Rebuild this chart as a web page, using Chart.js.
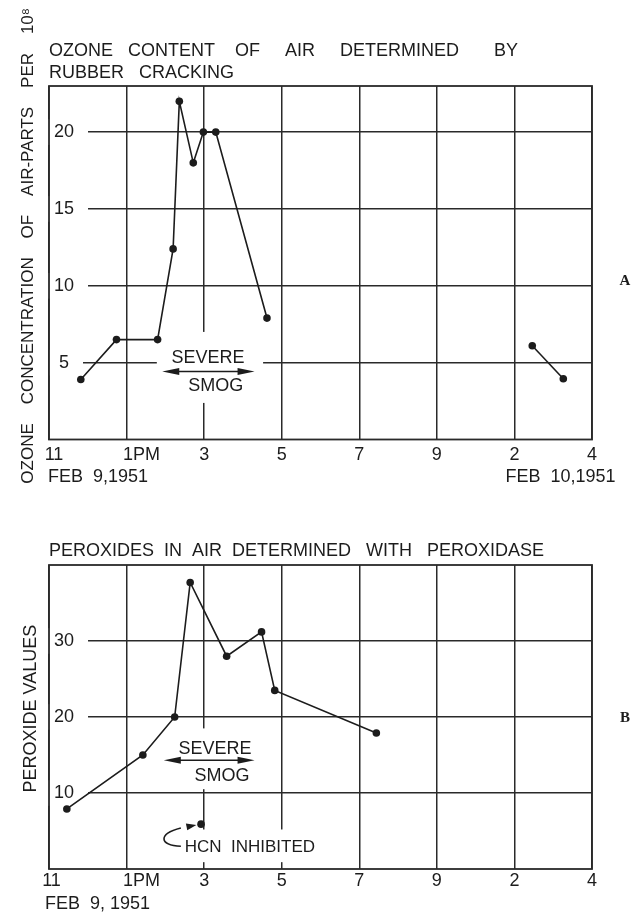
<!DOCTYPE html>
<html>
<head>
<meta charset="utf-8">
<script src="https://cdn.jsdelivr.net/npm/chart.js@4.4.1/dist/chart.umd.min.js"></script>
<style>
html,body{margin:0;padding:0;background:#fff;width:631px;height:915px;overflow:hidden;}
#cA{position:absolute;left:0;top:0;}
#cB{position:absolute;left:0;top:520px;}
</style>
</head>
<body>
<canvas id="cA" width="631" height="495"></canvas>
<canvas id="cB" width="631" height="395"></canvas>
<script>
// x axis positions: 0 = 11 AM, 1 = 1 PM, 2 = 3, 3 = 5, 4 = 7, 5 = 9 (Feb 9, 1951) | 6 = 2, 7 = 4 (Feb 10, 1951)
const xTickLabels = ['11', '1PM', '3', '5', '7', '9', '2', '4'];

// Chart A: ozone (parts per 10^8), Feb 9
const ozoneFeb9Time  = [0.41, 0.87, 1.40, 1.60, 1.68, 1.86, 1.99, 2.15, 2.81];
const ozoneFeb9Value = [3.9, 6.5, 6.5, 12.4, 22.0, 18.0, 20.0, 20.0, 7.9];
// Chart A: ozone, Feb 10
const ozoneFeb10Time  = [6.23, 6.63];
const ozoneFeb10Value = [6.1, 3.95];
const ozoneTicks = [5, 10, 15, 20];

// Chart B: peroxide values
const peroxTime  = [0.23, 1.21, 1.62, 1.82, 2.29, 2.74, 2.91, 4.22];
const peroxValue = [7.9, 15.0, 20.0, 37.7, 28.0, 31.2, 23.5, 17.9];
// Chart B: HCN inhibited sample
const hcnTime  = [1.96];
const hcnValue = [5.9];
const peroxTicks = [10, 20, 30];

const FONT = "'Liberation Sans', Arial, sans-serif";
const INK = '#1c1c1c';
const GRID = '#2a2a2a';

const toPts = (xs, ys) => xs.map((x, i) => ({x: x, y: ys[i]}));

function drawHead(ctx, tx, ty, dx, dy, len, half) {
  const m = Math.hypot(dx, dy); const ux = dx / m, uy = dy / m;
  const bx = tx - ux * len, by = ty - uy * len;
  ctx.beginPath();
  ctx.moveTo(tx, ty);
  ctx.lineTo(bx - uy * half, by + ux * half);
  ctx.lineTo(bx + uy * half, by - ux * half);
  ctx.closePath();
  ctx.fill();
}

const notes = {
  id: 'notes',
  beforeDatasetsDraw(chart, args, opts) {
    const {ctx, chartArea: a, scales: {x, y}} = chart;
    const px = v => x.getPixelForValue(v), py = v => y.getPixelForValue(v);
    ctx.save();
    ctx.fillStyle = '#fff';
    (opts.masks || []).forEach(m => {
      ctx.fillRect(px(m.x0), py(m.y1), px(m.x1) - px(m.x0), py(m.y0) - py(m.y1));
    });
    // frame of the plot
    ctx.strokeStyle = GRID; ctx.lineWidth = 1.8;
    ctx.strokeRect(a.left, a.top, a.right - a.left, a.bottom - a.top);
    // texts
    ctx.fillStyle = INK;
    (opts.texts || []).forEach(t => {
      let tx, ty;
      if (t.xv !== undefined) tx = px(t.xv); else if (t.xr !== undefined) tx = a.right + t.xr; else tx = a.left + t.xo;
      tx += (t.dx || 0);
      if (t.yv !== undefined) ty = py(t.yv); else ty = a.bottom + t.yo;
      ctx.save();
      ctx.font = t.font || ('18px ' + FONT);
      ctx.textAlign = t.align || 'center';
      ctx.textBaseline = 'middle';
      ctx.translate(tx, ty);
      if (t.rotate) ctx.rotate(-Math.PI / 2);
      ctx.fillText(t.text, 0, 0);
      ctx.restore();
    });
    // double-headed arrows
    ctx.strokeStyle = INK; ctx.lineWidth = 1.6;
    (opts.arrows || []).forEach(r => {
      const x0 = px(r.x0), x1 = px(r.x1), yy = py(r.y);
      ctx.beginPath(); ctx.moveTo(x0 + 8, yy); ctx.lineTo(x1 - 8, yy); ctx.stroke();
      drawHead(ctx, x0, yy, -1, 0, 17, 3.5);
      drawHead(ctx, x1, yy, 1, 0, 17, 3.5);
    });
    // curved arrow
    (opts.curves || []).forEach(c => {
      const p = c.pts.map(q => [px(q[0]), py(q[1])]);
      ctx.beginPath();
      ctx.moveTo(p[0][0], p[0][1]);
      ctx.bezierCurveTo(p[1][0], p[1][1], p[2][0], p[2][1], p[3][0], p[3][1]);
      ctx.stroke();
      drawHead(ctx, p[4][0], p[4][1], p[4][0] - p[3][0], p[4][1] - p[3][1], 10, 3.5);
    });
    ctx.restore();
  }
};

function xAxis(height, labelPad, shifts) {
  return {
    type: 'linear', min: 0, max: 7,
    afterBuildTicks: s => { s.ticks = xTickLabels.map((l, i) => ({value: i})); },
    afterFit: s => { s.height = height; s.paddingLeft = 0; s.paddingRight = 0; },
    border: {display: false},
    grid: {color: GRID, lineWidth: 1.5, drawTicks: false},
    ticks: {
      padding: labelPad, color: INK, maxRotation: 0, autoSkip: false,
      font: {family: FONT, size: 18},
      callback: v => ' '.repeat(shifts[xTickLabels[v]] || 0) + xTickLabels[v]
    }
  };
}

function yAxis(max, tickList) {
  return {
    type: 'linear', min: 0, max: max,
    afterBuildTicks: s => { s.ticks = tickList.map(v => ({value: v})); },
    afterFit: s => { s.width = 49; s.paddingTop = 0; s.paddingBottom = 0; },
    border: {display: false},
    grid: {color: GRID, lineWidth: 1.5, drawTicks: false},
    ticks: {
      mirror: true, crossAlign: 'center', padding: 5, color: INK,
      font: {family: FONT, size: 18},
      showLabelBackdrop: true, backdropColor: '#fff',
      backdropPadding: {left: 10, right: 14, top: 2, bottom: 2}
    }
  };
}

const lineStyle = {
  borderColor: INK, backgroundColor: INK, borderWidth: 1.6,
  pointRadius: 3.8, pointBackgroundColor: INK, pointBorderWidth: 0,
  tension: 0, fill: false
};

new Chart(document.getElementById('cA'), {
  type: 'line',
  data: {
    datasets: [
      Object.assign({label: 'Ozone Feb 9', data: toPts(ozoneFeb9Time, ozoneFeb9Value)}, lineStyle),
      Object.assign({label: 'Ozone Feb 10', data: toPts(ozoneFeb10Time, ozoneFeb10Value)}, lineStyle)
    ]
  },
  options: {
    responsive: false, animation: false, devicePixelRatio: 1,
    layout: {padding: {left: 0, right: 39, top: 0, bottom: 0}},
    scales: {x: xAxis(55.5, 5, {'11': 2, '1PM': 6}), y: yAxis(23, ozoneTicks)},
    plugins: {
      legend: {display: false}, tooltip: {enabled: false},
      title: {
        display: true, align: 'start', fullSize: false, color: INK,
        text: ['OZONE   CONTENT    OF     AIR     DETERMINED       BY', 'RUBBER   CRACKING'],
        font: {family: FONT, size: 18, weight: 'normal', lineHeight: 22 / 18},
        padding: {top: 40.5, bottom: 1.5}
      },
      notes: {
        masks: [{x0: 1.39, x1: 2.76, y0: 2.38, y1: 7.0}],
        arrows: [{x0: 1.46, x1: 2.65, y: 4.42}],
        texts: [
          {text: 'SEVERE', xv: 2.05, yv: 5.3},
          {text: 'SMOG', xv: 2.15, yv: 3.5},
          {text: 'OZONE    CONCENTRATION    OF    AIR-PARTS    PER    10\u2078', xo: -21, yv: 12.6, rotate: true, font: '17px ' + FONT},
          {text: 'FEB  9,1951', xo: -1, yo: 38, align: 'left'},
          {text: 'FEB  10,1951', xv: 6, dx: -9, yo: 38, align: 'left'},
          {text: 'A', xr: 33, yv: 10.3, font: 'bold 15px "Liberation Serif", serif'}
        ]
      }
    }
  },
  plugins: [notes]
});

new Chart(document.getElementById('cB'), {
  type: 'line',
  data: {
    datasets: [
      Object.assign({label: 'Peroxide values', data: toPts(peroxTime, peroxValue)}, lineStyle),
      Object.assign({label: 'HCN inhibited', data: toPts(hcnTime, hcnValue), showLine: false}, lineStyle)
    ]
  },
  options: {
    responsive: false, animation: false, devicePixelRatio: 1,
    layout: {padding: {left: 0, right: 39, top: 0, bottom: 0}},
    scales: {x: xAxis(46, 1, {'11': 1, '1PM': 6}), y: yAxis(40, peroxTicks)},
    plugins: {
      legend: {display: false}, tooltip: {enabled: false},
      title: {
        display: true, align: 'start', fullSize: false, color: INK,
        text: 'PEROXIDES  IN  AIR  DETERMINED   WITH   PEROXIDASE',
        font: {family: FONT, size: 18, weight: 'normal', lineHeight: 22 / 18},
        padding: {top: 20, bottom: 3}
      },
      notes: {
        masks: [{x0: 1.43, x1: 2.69, y0: 10.5, y1: 18.5}, {x0: 1.73, x1: 3.62, y0: 0.9, y1: 5.2}],
        arrows: [{x0: 1.48, x1: 2.65, y: 14.3}],
        curves: [{pts: [[1.70, 3.0], [1.42, 3.1], [1.40, 4.6], [1.70, 5.4], [1.90, 5.8]]}],
        texts: [
          {text: 'SEVERE', xv: 2.14, yv: 15.8},
          {text: 'SMOG', xv: 2.23, yv: 12.2},
          {text: 'HCN  INHIBITED', xv: 1.75, yv: 2.9, align: 'left', font: '17px ' + FONT},
          {text: 'PEROXIDE VALUES', xo: -18, yv: 21.1, rotate: true},
          {text: 'FEB  9, 1951', xo: -4, yo: 35.5, align: 'left'},
          {text: 'B', xr: 33, yv: 19.8, font: 'bold 15px "Liberation Serif", serif'}
        ]
      }
    }
  },
  plugins: [notes]
});
</script>
</body>
</html>
